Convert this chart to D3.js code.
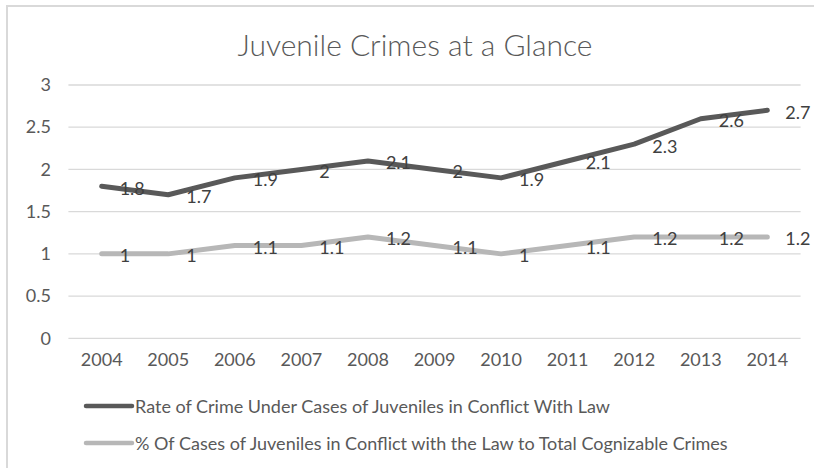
<!DOCTYPE html>
<html>
<head>
<meta charset="utf-8">
<script src="https://cdn.jsdelivr.net/npm/d3@7"></script>
<style>
  body { margin: 0; background: #fff; }
  text { font-family: Lato, "Open Sans", sans-serif; }
</style>
</head>
<body>
<div id="chart"></div>
<script>
// data
var years = ["2004", "2005", "2006", "2007", "2008", "2009", "2010", "2011", "2012", "2013", "2014"];
var rateValues = [1.8, 1.7, 1.9, 2, 2.1, 2, 1.9, 2.1, 2.3, 2.6, 2.7];
var pctValues = [1, 1, 1.1, 1.1, 1.2, 1.1, 1, 1.1, 1.2, 1.2, 1.2];
var yTicks = [0, 0.5, 1, 1.5, 2, 2.5, 3];
var seriesNames = [
    "Rate of Crime Under Cases of Juveniles in Conflict With Law",
    "% Of Cases of Juveniles in Conflict with the Law to Total Cognizable Crimes"
];
var chartTitle = "Juvenile Crimes at a Glance";

var width = 814, height = 468;

var svg = d3.select("#chart").append("svg")
    .attr("width", width)
    .attr("height", height);

// chart area border
svg.append("rect")
    .attr("x", 7).attr("y", 6)
    .attr("width", 820).attr("height", 480)
    .attr("fill", "none")
    .attr("stroke", "#d9d9d9")
    .attr("stroke-width", 2);

// title
svg.append("text")
    .attr("x", 415).attr("y", 56)
    .attr("text-anchor", "middle")
    .style("font-size", "30px")
    .style("font-weight", 300)
    .attr("fill", "#595959")
    .text(chartTitle);

// set the ranges
var x = d3.scaleBand().domain(years).range([68.4, 800.6]);
var y = d3.scaleLinear().domain([0, 3]).range([338.3, 85]);

// gridlines
svg.append("g")
    .selectAll("line")
    .data(yTicks)
    .enter().append("line")
    .attr("x1", x.range()[0]).attr("x2", x.range()[1])
    .attr("y1", function (d) { return y(d); })
    .attr("y2", function (d) { return y(d); })
    .attr("stroke", "#d9d9d9")
    .attr("stroke-width", 1.3);

// y axis
var yAxis = svg.append("g")
    .attr("transform", "translate(51,0)")
    .call(d3.axisLeft(y).tickValues(yTicks).tickSize(0).tickPadding(0)
        .tickFormat(function (d) { return d; }));
yAxis.select(".domain").remove();
yAxis.selectAll("text")
    .attr("fill", "#595959")
    .style("font-size", "18px")
    .style("font-family", "Lato, sans-serif");

// x axis
var xAxis = svg.append("g")
    .attr("transform", "translate(0,353)")
    .call(d3.axisBottom(x).tickSize(0).tickPadding(0));
xAxis.select(".domain").remove();
xAxis.selectAll("text")
    .attr("fill", "#595959")
    .style("font-size", "18px")
    .style("font-family", "Lato, sans-serif");

var cx = function (d, i) { return x(years[i]) + x.bandwidth() / 2; };

var series = [
    { name: seriesNames[0], values: rateValues, color: "#595959" },
    { name: seriesNames[1], values: pctValues, color: "#b7b7b7" }
];

var line = d3.line()
    .x(function (d, i) { return cx(d, i); })
    .y(function (d) { return y(d); });

// lines
series.forEach(function (s) {
    svg.append("path")
        .datum(s.values)
        .attr("d", line)
        .attr("fill", "none")
        .attr("stroke", s.color)
        .attr("stroke-width", 5)
        .attr("stroke-linecap", "round")
        .attr("stroke-linejoin", "round");
});

// data labels, placed right of each point
series.forEach(function (s) {
    svg.append("g")
        .selectAll("text")
        .data(s.values)
        .enter().append("text")
        .attr("x", function (d, i) { return cx(d, i) + 18; })
        .attr("y", function (d) { return y(d) + 8.5; })
        .attr("fill", "#404040")
        .style("font-size", "18px")
        .text(function (d) { return d; });
});

// legend
var legend = svg.append("g")
    .selectAll("g")
    .data(series)
    .enter().append("g")
    .attr("transform", function (d, i) { return "translate(0," + (406 + i * 37) + ")"; });

legend.append("line")
    .attr("x1", 86).attr("x2", 132)
    .attr("stroke", function (d) { return d.color; })
    .attr("stroke-width", 4.5)
    .attr("stroke-linecap", "round");

legend.append("text")
    .attr("x", 135).attr("y", 6.5)
    .attr("fill", "#595959")
    .style("font-size", "18px")
    .text(function (d) { return d.name; });
</script>
</body>
</html>
